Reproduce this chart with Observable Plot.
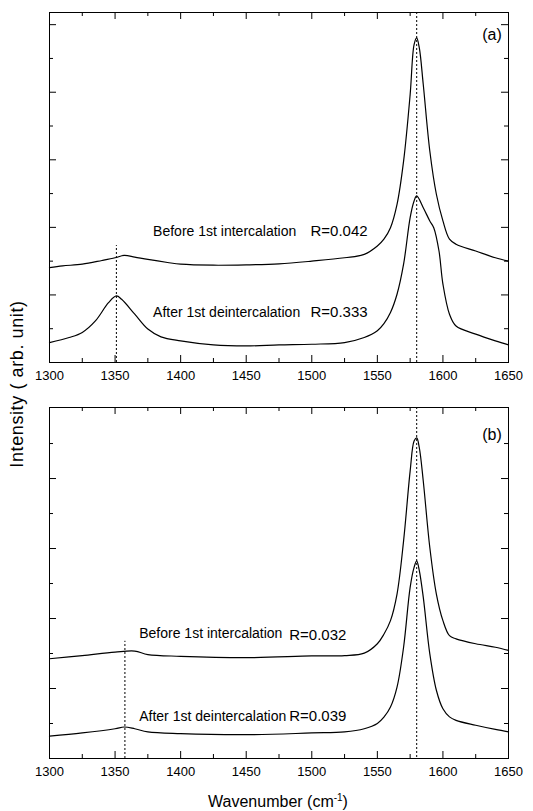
<!DOCTYPE html>
<html>
<head>
<meta charset="utf-8">
<script src="https://cdn.jsdelivr.net/npm/d3@7"></script>
<script src="https://cdn.jsdelivr.net/npm/@observablehq/plot@0.6"></script>
<style>
  body { margin: 0; background: #fff; font-family: "Liberation Sans", Arial, sans-serif; }
  #root { position: relative; width: 533px; height: 811px; overflow: hidden; }
  #pa { position: absolute; left: 0; top: 0; }
  #pb { position: absolute; left: 0; top: 390px; }
  #ylab { position: absolute; left: 17px; top: 384px; transform: translate(-50%, -50%) rotate(-90deg);
          white-space: nowrap; font-size: 18px; letter-spacing: 0.6px; color: #000; }
  #xlab { position: absolute; left: 278px; top: 794px; transform: translateX(-50%);
          white-space: nowrap; font-size: 16px; color: #000; line-height: 16px; }
  #xlab sup { font-size: 10px; vertical-align: 6px; line-height: 0; }
</style>
</head>
<body>
<div id="root">
  <div id="pa"></div>
  <div id="pb"></div>
  <div id="ylab">Intensity ( arb. unit)</div>
  <div id="xlab">Wavenumber (cm<sup>-1</sup>)</div>
</div>
<script>
// ---- data (wavenumber cm^-1, intensity arb. units) ----
const aBefore = [[1300,2.81],[1310,2.86],[1325,2.91],[1340,3.02],[1350,3.10],[1357,3.17],[1365,3.12],[1375,3.05],[1390,2.96],[1400,2.91],[1425,2.88],[1450,2.89],[1475,2.92],[1500,3.00],[1525,3.10],[1540,3.20],[1550,3.45],[1555,3.65],[1560,3.99],[1565,4.68],[1570,5.96],[1575,7.93],[1578,9.41],[1580,9.61],[1582,9.31],[1585,8.23],[1590,6.26],[1595,4.98],[1600,4.19],[1605,3.65],[1610,3.50],[1625,3.30],[1640,3.10],[1650,3.00]];
const aAfter = [[1300,0.59],[1315,0.74],[1325,0.89],[1335,1.23],[1345,1.77],[1351,1.97],[1355,1.87],[1365,1.43],[1375,0.99],[1385,0.76],[1400,0.64],[1425,0.52],[1450,0.49],[1475,0.52],[1500,0.54],[1525,0.59],[1540,0.74],[1550,0.94],[1555,1.15],[1560,1.48],[1565,2.02],[1570,2.91],[1575,4.29],[1578,4.78],[1580,4.93],[1585,4.58],[1590,4.19],[1593,3.99],[1597,3.30],[1600,2.32],[1605,1.43],[1610,1.08],[1625,0.84],[1640,0.64],[1650,0.52]];
const bBefore = [[1300,2.85],[1325,2.94],[1350,3.04],[1365,3.07],[1375,2.97],[1400,2.92],[1450,2.88],[1500,2.93],[1525,2.94],[1540,3.01],[1550,3.28],[1555,3.55],[1560,3.94],[1565,4.70],[1570,6.22],[1575,8.21],[1578,9.07],[1580,9.16],[1582,8.88],[1585,7.93],[1590,6.03],[1595,4.70],[1600,3.94],[1605,3.51],[1610,3.42],[1625,3.28],[1640,3.18],[1650,3.09]];
const bAfter = [[1300,0.64],[1325,0.73],[1350,0.85],[1357,0.90],[1365,0.85],[1375,0.76],[1400,0.71],[1450,0.68],[1500,0.73],[1525,0.76],[1540,0.85],[1550,1.00],[1555,1.18],[1560,1.47],[1565,2.04],[1570,3.18],[1575,4.89],[1578,5.46],[1580,5.65],[1582,5.37],[1585,4.61],[1590,2.99],[1595,1.95],[1600,1.42],[1605,1.19],[1610,1.09],[1625,0.95],[1640,0.83],[1650,0.76]];

// reference (dotted) lines: x, top (null = full height)
const aRefs = [[1580, null], [1351, 3.46]];
const bRefs = [[1580, null], [1357.5, 3.35]];

// annotations: x, y (data units), text
const aNotes = [[1379, 3.74, "Before 1st intercalation"], [1379, 1.34, "After 1st deintercalation"]];
const aRvals = [[1499, 3.74, "R=0.042"], [1499, 1.34, "R=0.333"]];
const bNotes = [[1368.4, 3.43, "Before 1st intercalation"], [1368.4, 1.07, "After 1st deintercalation"]];
const bRvals = [[1482.8, 3.40, "R=0.032"], [1482.8, 1.07, "R=0.039"]];
const aTag = [[1630, 9.56, "(a)"]];
const bTag = [[1630, 9.09, "(b)"]];

// ticks
const xMajor = [1300, 1350, 1400, 1450, 1500, 1550, 1600, 1650];
const xMinor = [1325, 1375, 1425, 1475, 1525, 1575, 1625];
const aYMajor = [2, 4, 6, 8, 10], aYMinor = [1, 3, 5, 7, 9];
const bYMajor = [2, 4, 6, 8], bYMinor = [1, 3, 5, 7, 9];

const FONT = "'Liberation Sans', Arial, Helvetica, sans-serif";

function panel({height, mt, mb, ytop, before, after, refs, notes, rvals, tag, yMajor, yMinor}) {
  const W = 533, ml = 49, mr = 25;
  const iw = W - ml - mr, ih = height - mt - mb;
  const majL = 7, minL = 4;
  const toObj = (arr) => arr.map(([x, y]) => ({x, y}));
  const fullRefs = refs.filter(r => r[1] === null).map(r => r[0]);
  const partRefs = refs.filter(r => r[1] !== null).map(([x, t]) => ({x, t}));
  const txt = (arr) => arr.map(([x, y, t]) => ({x, y, t}));
  return Plot.plot({
    width: W, height,
    marginLeft: ml, marginRight: mr, marginTop: mt, marginBottom: mb,
    style: {fontFamily: FONT, fontSize: "13px", color: "#000", background: "transparent", overflow: "visible"},
    x: {domain: [1300, 1650]},
    y: {domain: [0, ytop], axis: null},
    marks: [
      // dotted reference lines
      Plot.ruleX(fullRefs, {x: d => d, stroke: "#000", strokeWidth: 1, strokeDasharray: "2,2"}),
      Plot.ruleX(partRefs, {x: "x", y1: 0, y2: "t", stroke: "#000", strokeWidth: 1, strokeDasharray: "2,2"}),
      // spectra
      Plot.line(toObj(before), {x: "x", y: "y", stroke: "#000", strokeWidth: 1.2, curve: "catmull-rom"}),
      Plot.line(toObj(after), {x: "x", y: "y", stroke: "#000", strokeWidth: 1.2, curve: "catmull-rom"}),
      // inward ticks
      Plot.tickX(xMajor, {x: d => d, insetTop: ih - majL, stroke: "#000"}),
      Plot.tickX(xMinor, {x: d => d, insetTop: ih - minL, stroke: "#000"}),
      Plot.tickX(xMajor, {x: d => d, insetBottom: ih - majL, stroke: "#000"}),
      Plot.tickX(xMinor, {x: d => d, insetBottom: ih - minL, stroke: "#000"}),
      Plot.tickY(yMajor, {y: d => d, insetRight: iw - majL, stroke: "#000"}),
      Plot.tickY(yMinor, {y: d => d, insetRight: iw - minL, stroke: "#000"}),
      Plot.tickY(yMajor, {y: d => d, insetLeft: iw - majL, stroke: "#000"}),
      Plot.tickY(yMinor, {y: d => d, insetLeft: iw - minL, stroke: "#000"}),
      Plot.frame({stroke: "#000", strokeWidth: 1}),
      Plot.axisX({ticks: xMajor, tickSize: 0, tickPadding: 8, label: null, tickFormat: d => String(d), fontSize: 13}),
      // annotations
      Plot.text(txt(notes), {x: "x", y: "y", text: "t", textAnchor: "start", lineAnchor: "bottom", fontSize: 14, fill: "#000"}),
      Plot.text(txt(rvals), {x: "x", y: "y", text: "t", textAnchor: "start", lineAnchor: "bottom", fontSize: 15, fill: "#000"}),
      Plot.text(txt(tag), {x: "x", y: "y", text: "t", textAnchor: "start", lineAnchor: "bottom", fontSize: 16, fill: "#000"})
    ]
  });
}

document.getElementById("pa").append(panel({
  height: 390, mt: 12, mb: 28, ytop: 10.36,
  before: aBefore, after: aAfter, refs: aRefs, notes: aNotes, rvals: aRvals, tag: aTag,
  yMajor: aYMajor, yMinor: aYMinor
}));
document.getElementById("pb").append(panel({
  height: 421, mt: 17, mb: 53, ytop: 10.03,
  before: bBefore, after: bAfter, refs: bRefs, notes: bNotes, rvals: bRvals, tag: bTag,
  yMajor: bYMajor, yMinor: bYMinor
}));
</script>
</body>
</html>
